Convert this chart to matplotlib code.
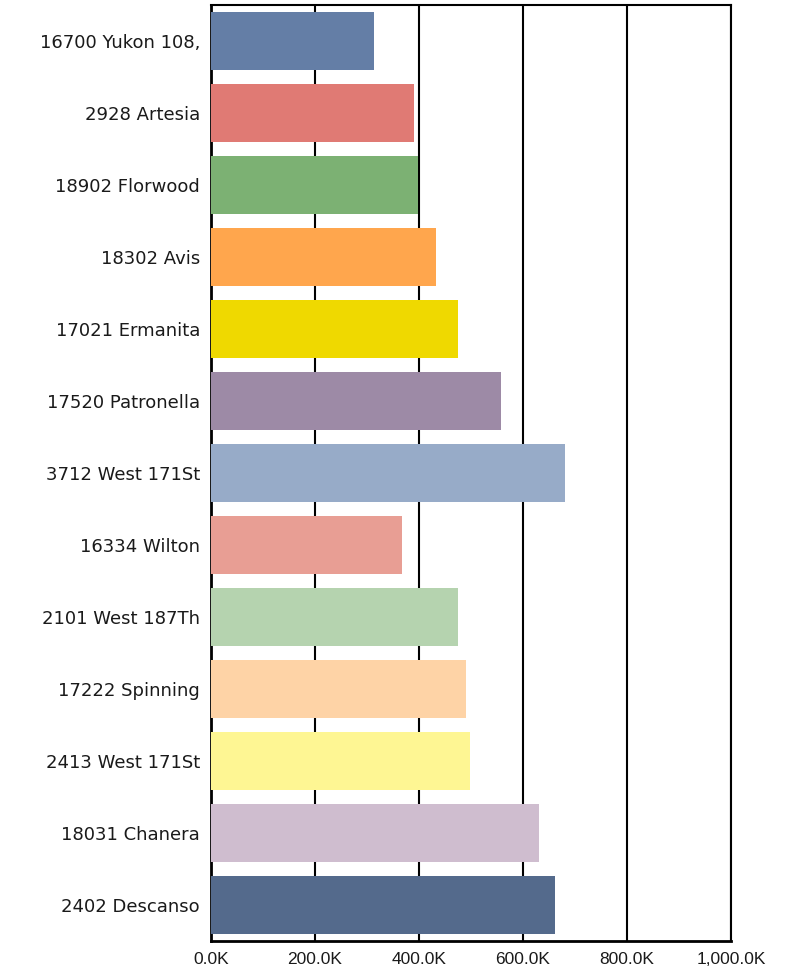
import matplotlib
matplotlib.use("Agg")
import matplotlib.pyplot as plt
from matplotlib.ticker import FuncFormatter

categories = ["16700 Yukon 108,", "2928 Artesia", "18902 Florwood", "18302 Avis",
              "17021 Ermanita", "17520 Patronella", "3712 West 171St", "16334 Wilton",
              "2101 West 187Th", "17222 Spinning", "2413 West 171St", "18031 Chanera",
              "2402 Descanso"]
values = [313000, 390000, 398000, 433000, 475000, 558000, 681000, 367000,
          475000, 490000, 498000, 631000, 662000]
colors = ["#647EA6", "#E07A74", "#7CB173", "#FFA64D", "#EFD900", "#9D8AA6",
          "#97ABC8", "#E89E94", "#B5D3AF", "#FED3A6", "#FEF693", "#CFBDCF", "#546A8C"]
xticks = [0, 200000, 400000, 600000, 800000, 1000000]

fig = plt.figure(figsize=(7.86, 9.71), dpi=100)
ax = fig.add_axes([211/786, 1-941/971, 520/786, 936/971])

ypos = list(range(len(categories)))
ax.barh(ypos, values, height=0.8, color=colors, zorder=3)
ax.set_ylim(len(categories)-0.5, -0.5)
ax.set_xlim(0, 1000000)
ax.set_xticks(xticks)
ax.xaxis.set_major_formatter(FuncFormatter(lambda v, p: f"{v/1000:,.1f}K"))
ax.set_yticks(ypos)
ax.set_yticklabels(categories, fontsize=13, family="DejaVu Sans", color="#1a1a1a")
for lbl in ax.get_xticklabels():
    lbl.set_family("Liberation Sans")
    lbl.set_fontsize(12.5)
    lbl.set_color("#1a1a1a")
ax.tick_params(axis="y", length=0, pad=8)
ax.tick_params(axis="x", length=0, pad=8)
ax.grid(axis="x", color="black", linewidth=1.5, zorder=1)
for s in ["left", "bottom"]:
    ax.spines[s].set_linewidth(2)
for s in ["top", "right"]:
    ax.spines[s].set_linewidth(1.5)

fig.savefig("out.png", dpi=100)
